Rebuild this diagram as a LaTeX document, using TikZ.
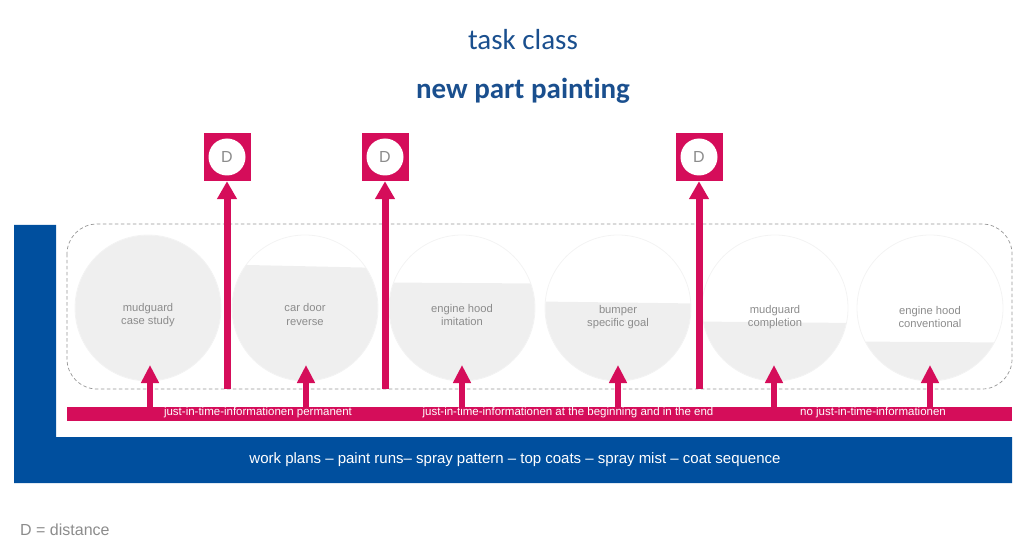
\documentclass[tikz,border=0pt]{standalone}
\usepackage{fontspec}
\setmainfont{Liberation Sans}
\newfontfamily\calib[Ligatures=NoCommon]{Carlito}
\usetikzlibrary{arrows.meta}
\definecolor{pinkc}{HTML}{D50D5A}
\definecolor{barblue}{HTML}{004F9E}
\definecolor{titleblue}{HTML}{1A4F8E}
\definecolor{circfill}{HTML}{EFEFEF}
\definecolor{circline}{HTML}{F3F3F3}
\definecolor{txtgray}{HTML}{8C8C8C}
\definecolor{dashgray}{HTML}{959595}
\begin{document}
\begin{tikzpicture}[x=1pt,y=-1pt,
  titletxt/.style={font=\calib\fontsize{29}{30}\selectfont, text=titleblue, inner sep=0pt},
  ctext/.style={font=\fontsize{11.2}{13.5}\selectfont, text=txtgray, align=center, inner sep=0pt},
  roundc/.style={circle, draw=circline, line width=0.8pt, minimum size=146pt, inner sep=0pt},
  dbox/.style={fill=pinkc, minimum width=47pt, minimum height=48pt, inner sep=0pt},
  dcirc/.style={circle, fill=white, minimum size=37pt, inner sep=0pt, text=txtgray, font=\fontsize{16}{16}\selectfont},
  smallarr/.style={draw=pinkc, line width=6pt, -{Triangle[width=17pt,length=18pt]}},
  longarr/.style={draw=pinkc, line width=7pt, -{Triangle[width=19pt,length=18pt]}},
  barlabel/.style={font=\fontsize{11.5}{12}\selectfont, text=white, inner sep=0pt},
  ]
\useasboundingbox (0,0) rectangle (1014,537);

% titles
\node[titletxt, anchor=base] (t1) at (523,50) {task class};
\node[titletxt, anchor=base, font=\calib\bfseries\fontsize{29}{30}\selectfont] (t2) at (523,99) {new part painting};

% blue L shape
\fill[barblue] (14,225) -- (56,225) -- (56,437) -- (1012,437) -- (1012,483) -- (14,483) -- cycle;
\node[font=\fontsize{15}{15}\selectfont, text=white] (wp) at (515,460) {work plans -- paint runs-- spray pattern -- top coats -- spray mist -- coat sequence};

% dashed frame
\draw[dashgray, line width=0.7pt, dash pattern=on 3.5pt off 2.5pt, rounded corners=30pt] (67,224) rectangle (1012,389);

% circles
\foreach \i/\x/\yl/\yr in {1/148/230/230, 2/305/264.5/268, 3/462/282.5/283.5, 4/618/301.5/303.5, 5/775/321.5/323, 6/930/341.5/342.5}{
  \node[roundc] (c\i) at (\x,308) {};
  \begin{scope}
    \clip (\x,308) circle (72.6);
    \fill[circfill] (\x-80,\yl) -- (\x+80,\yr) -- (\x+80,390) -- (\x-80,390) -- cycle;
  \end{scope}
}
\node[ctext] (ct1) at (148,315) {mudguard\\case study};
\node[ctext] (ct2) at (305,314.5) {car door\\reverse};
\node[ctext] (ct3) at (462,315) {engine hood\\imitation};
\node[ctext] (ct4) at (618,317) {bumper\\specific goal};
\node[ctext] (ct5) at (775,317) {mudguard\\completion};
\node[ctext] (ct6) at (930,317) {engine hood\\conventional};

% pink bar
\fill[pinkc] (67,407) rectangle (1012,421);
\node[barlabel] (b1) at (258,413) {just-in-time-informationen permanent};
\node[barlabel] (b2) at (568,413) {just-in-time-informationen at the beginning and in the end};
\node[barlabel] (b3) at (873,413) {no just-in-time-informationen};

% small arrows
\foreach \i/\x in {1/150,2/306,3/462,4/618,5/774,6/930}{
  \coordinate (s\i) at (\x,408);
  \coordinate (e\i) at (\x,365);
  \draw[smallarr] (s\i) -- (e\i);
}

% D boxes and long arrows
\foreach \i/\x in {1/227,2/385,3/699}{
  \node[dbox] (d\i) at (\x,157) {};
  \node[dcirc] (dc\i) at (d\i) {D};
  \coordinate (l\i) at (\x,389);
  \draw[longarr] (l\i) -- (d\i.south);
}

% legend
\node[anchor=base west, inner sep=0pt, text=txtgray, font=\fontsize{16}{16}\selectfont] (leg) at (20,535) {D = distance};
\end{tikzpicture}
\end{document}
